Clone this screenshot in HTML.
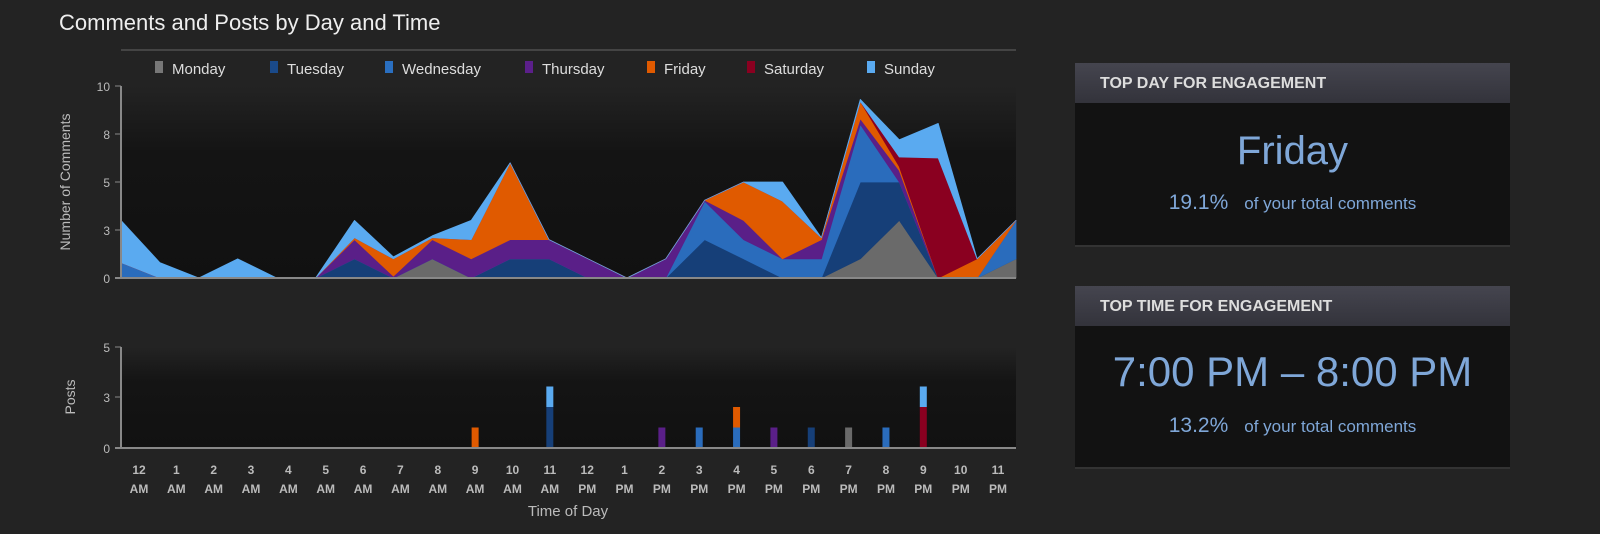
<!DOCTYPE html>
<html><head><meta charset="utf-8"><style>
body{margin:0;width:1600px;height:534px;background:#232323;overflow:hidden;font-family:"Liberation Sans",sans-serif;}
.panel{position:absolute;left:1075px;width:435px;}
.hdr{height:40px;background:linear-gradient(#45454f,#33333b);color:#ddd;font-weight:bold;font-size:16px;line-height:42px;padding-left:25px;box-sizing:border-box;}
.bd{background:#121212;border-bottom:2px solid #333;text-align:center;color:#7fa7d8;}
</style></head><body>
<svg width="1600" height="534" style="position:absolute;left:0;top:0" font-family="Liberation Sans, sans-serif">
<defs>
<linearGradient id="bg" x1="0" y1="0" x2="0" y2="1"><stop offset="0" stop-color="#232323"/><stop offset="0.35" stop-color="#141414"/><stop offset="1" stop-color="#111"/></linearGradient>
</defs>
<text x="59" y="30" fill="#eee" font-size="22">Comments and Posts by Day and Time</text>
<line x1="121" y1="50" x2="1016" y2="50" stroke="#444" stroke-width="2"/>
<rect x="121" y="86" width="895" height="192" fill="url(#bg)"/>
<rect x="121" y="347" width="895" height="101" fill="url(#bg)"/>
<g font-size="15" fill="#ddd">
<rect x="155" y="61" width="8" height="12" fill="#777"/><text x="172" y="74">Monday</text>
<rect x="270" y="61" width="8" height="12" fill="#1a4a8a"/><text x="287" y="74">Tuesday</text>
<rect x="385" y="61" width="8" height="12" fill="#2a6fc0"/><text x="402" y="74">Wednesday</text>
<rect x="525" y="61" width="8" height="12" fill="#5b1f8a"/><text x="542" y="74">Thursday</text>
<rect x="647" y="61" width="8" height="12" fill="#e05a00"/><text x="664" y="74">Friday</text>
<rect x="747" y="61" width="8" height="12" fill="#8a0020"/><text x="764" y="74">Saturday</text>
<rect x="867" y="61" width="8" height="12" fill="#5aaaf0"/><text x="884" y="74">Sunday</text>
</g>
<g id="areas"></g>
<g id="bars"></g>
<g stroke="#888" stroke-width="2"><line x1="121" y1="86" x2="121" y2="279"/><line x1="115" y1="278" x2="1016" y2="278"/>
<line x1="121" y1="347" x2="121" y2="449"/><line x1="115" y1="448" x2="1016" y2="448"/></g>
<g stroke="#888"><line x1="115" y1="86" x2="121" y2="86"/><line x1="115" y1="134" x2="121" y2="134"/><line x1="115" y1="182" x2="121" y2="182"/><line x1="115" y1="230" x2="121" y2="230"/>
<line x1="115" y1="347" x2="121" y2="347"/><line x1="115" y1="397" x2="121" y2="397"/></g>
<g font-size="12" fill="#bbb" text-anchor="end">
<text x="110" y="91">10</text><text x="110" y="139">8</text><text x="110" y="187">5</text><text x="110" y="235">3</text><text x="110" y="283">0</text>
<text x="110" y="352">5</text><text x="110" y="402">3</text><text x="110" y="453">0</text></g>
<text transform="translate(70,182) rotate(-90)" fill="#bbb" font-size="14" text-anchor="middle">Number of Comments</text>
<text transform="translate(75,397) rotate(-90)" fill="#bbb" font-size="14" text-anchor="middle">Posts</text>
<g font-size="12" font-weight="bold" fill="#bbb" text-anchor="middle">
<text x="139" y="474">12</text><text x="139" y="493">AM</text>
<text x="176.3" y="474">1</text><text x="176.3" y="493">AM</text>
<text x="213.7" y="474">2</text><text x="213.7" y="493">AM</text>
<text x="251" y="474">3</text><text x="251" y="493">AM</text>
<text x="288.4" y="474">4</text><text x="288.4" y="493">AM</text>
<text x="325.7" y="474">5</text><text x="325.7" y="493">AM</text>
<text x="363.1" y="474">6</text><text x="363.1" y="493">AM</text>
<text x="400.4" y="474">7</text><text x="400.4" y="493">AM</text>
<text x="437.8" y="474">8</text><text x="437.8" y="493">AM</text>
<text x="475.1" y="474">9</text><text x="475.1" y="493">AM</text>
<text x="512.5" y="474">10</text><text x="512.5" y="493">AM</text>
<text x="549.8" y="474">11</text><text x="549.8" y="493">AM</text>
<text x="587.2" y="474">12</text><text x="587.2" y="493">PM</text>
<text x="624.5" y="474">1</text><text x="624.5" y="493">PM</text>
<text x="661.9" y="474">2</text><text x="661.9" y="493">PM</text>
<text x="699.2" y="474">3</text><text x="699.2" y="493">PM</text>
<text x="736.6" y="474">4</text><text x="736.6" y="493">PM</text>
<text x="773.9" y="474">5</text><text x="773.9" y="493">PM</text>
<text x="811.3" y="474">6</text><text x="811.3" y="493">PM</text>
<text x="848.6" y="474">7</text><text x="848.6" y="493">PM</text>
<text x="886" y="474">8</text><text x="886" y="493">PM</text>
<text x="923.3" y="474">9</text><text x="923.3" y="493">PM</text>
<text x="960.7" y="474">10</text><text x="960.7" y="493">PM</text>
<text x="998" y="474">11</text><text x="998" y="493">PM</text>
</g>
<text x="568" y="516" fill="#bbb" font-size="15" text-anchor="middle">Time of Day</text>
</svg>
<div class="panel" style="top:63px"><div class="hdr">TOP DAY FOR ENGAGEMENT</div>
<div class="bd" style="height:142px"><div style="font-size:40px;padding-top:26px;height:62px">Friday</div>
<div><span style="font-size:21px">19.1%</span><span style="font-size:17px;margin-left:16px">of your total comments</span></div></div></div>
<div class="panel" style="top:286px"><div class="hdr">TOP TIME FOR ENGAGEMENT</div>
<div class="bd" style="height:141px"><div style="font-size:42px;padding-top:22px;height:66px">7:00 PM – 8:00 PM</div>
<div><span style="font-size:21px">13.2%</span><span style="font-size:17px;margin-left:16px">of your total comments</span></div></div></div>
<script>
(function(){
var NS="http://www.w3.org/2000/svg";
var cols=["#6a6a6a","#163f78","#2a6cbc","#5a1f88","#e05a00","#8a0020","#5aaaf0"];
var d=[
[0,0,0.8,0,0,0,2.2],[0,0,0,0,0,0,0.8],[0,0,0,0,0,0,0],[0,0,0,0,0,0,1],[0,0,0,0,0,0,0],[0,0,0,0,0,0,0],
[0,1,0,1,0.1,0,0.9],[0,0,0,0.1,0.9,0,0.1],[1,0,0,1,0.1,0,0.1],[0,0,0,1,1,0,1],[0,1,0,1,4,0,0],[0,1,0,1,0,0,0],
[0,0,0,1,0,0,0],[0,0,0,0,0,0,0],[0,0,0,1,0,0,0],[0,2,2,0.05,0,0,0],[0,1,1,1,2,0,0],[0,0,1,0,3,0,1],
[0,0,1,1,0.1,0,0],[1,4,3,0.3,0.9,0,0.1],[3,2,0,0.6,0.2,0.5,0.9],[0,0,0,0,0,6.25,1.8],[0,0,0,0,1,0,0],[1,0,2,0,0,0,0]];
function X(i){return 121+i*895/23}
function Y(v){return 278-19.2*v}
var g=document.getElementById('areas');
var base=[];for(var i=0;i<24;i++)base.push(0);
for(var s=0;s<7;s++){var top=[],bot=[];
for(var i=0;i<24;i++){var b=base[i],t=b+d[i][s];top.push(X(i).toFixed(1)+','+Y(t).toFixed(1));bot.unshift(X(i).toFixed(1)+','+Y(b).toFixed(1));base[i]=t;}
var p=document.createElementNS(NS,'polygon');
p.setAttribute('points',top.concat(bot).join(' '));
p.setAttribute('fill',cols[s]);p.setAttribute('stroke',cols[s]);p.setAttribute('stroke-width','0.8');p.setAttribute('stroke-linejoin','round');
g.appendChild(p);}
function XL(i){return 139+i*(998-139)/23}
var bars=[[9,[[4,1]]],[11,[[1,2],[6,1]]],[14,[[3,1]]],[15,[[2,1]]],[16,[[2,1],[4,1]]],[17,[[3,1]]],[18,[[1,1]]],[19,[[0,1]]],[20,[[2,1]]],[21,[[5,2],[6,1]]]];
var bg=document.getElementById('bars');
for(var k=0;k<bars.length;k++){var b=bars[k],y=448;
for(var j=0;j<b[1].length;j++){var q=b[1][j],hh=q[1]*20.5;y-=hh;
var r=document.createElementNS(NS,'rect');
r.setAttribute('x',XL(b[0])-3.5);r.setAttribute('y',y);r.setAttribute('width',7);r.setAttribute('height',hh);r.setAttribute('fill',cols[q[0]]);
bg.appendChild(r);}}
})();
</script>
</body></html>
